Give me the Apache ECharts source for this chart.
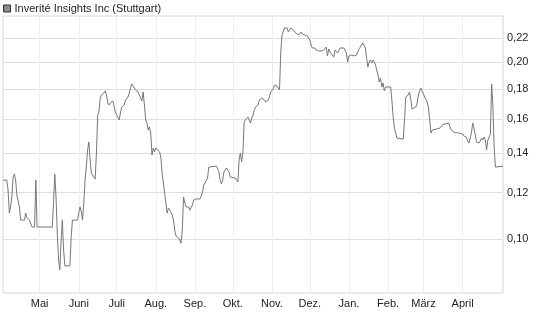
<!DOCTYPE html>
<html>
<head>
<meta charset="utf-8">
<script src="https://cdn.jsdelivr.net/npm/echarts@6/dist/echarts.min.js"></script>
<style>
html,body{margin:0;padding:0;background:#fff;}
#chart{width:545px;height:327px;}
</style>
</head>
<body>
<div id="chart"></div>
<script>
var title = 'Inverité Insights Inc (Stuttgart)';
var monthNames = ['Jan.','Feb.','März','April','Mai','Juni','Juli','Aug.','Sep.','Okt.','Nov.','Dez.'];
var monthTicks = ['2024-05-01','2024-06-01','2024-07-01','2024-08-01','2024-09-01','2024-10-01','2024-11-01','2024-12-01','2025-01-01','2025-02-01','2025-03-01','2025-04-01'];
var priceTicks = [0.10,0.12,0.14,0.16,0.18,0.20,0.22];

var dates = [
'2024-04-02','2024-04-05','2024-04-06','2024-04-07','2024-04-08','2024-04-09','2024-04-10','2024-04-11','2024-04-12','2024-04-13',
'2024-04-15','2024-04-16','2024-04-19','2024-04-20','2024-04-21','2024-04-23','2024-04-24','2024-04-25','2024-04-27','2024-04-28',
'2024-04-29','2024-05-11','2024-05-12','2024-05-13','2024-05-14','2024-05-15','2024-05-16','2024-05-17','2024-05-18','2024-05-19',
'2024-05-20','2024-05-21','2024-05-25','2024-05-26','2024-05-27','2024-05-31','2024-06-01','2024-06-02','2024-06-03','2024-06-04',
'2024-06-05','2024-06-06','2024-06-07','2024-06-08','2024-06-09','2024-06-10','2024-06-11','2024-06-12','2024-06-14','2024-06-15',
'2024-06-16','2024-06-17','2024-06-18','2024-06-19','2024-06-20','2024-06-21','2024-06-22','2024-06-23','2024-06-24','2024-06-25',
'2024-06-26','2024-06-28','2024-06-29','2024-06-30','2024-07-01','2024-07-02','2024-07-03','2024-07-04','2024-07-05','2024-07-07',
'2024-07-08','2024-07-10','2024-07-11','2024-07-12','2024-07-13','2024-07-14','2024-07-16','2024-07-18','2024-07-19','2024-07-20',
'2024-07-21','2024-07-22','2024-07-23','2024-07-24','2024-07-25','2024-07-26','2024-07-27','2024-07-28','2024-07-29','2024-07-30',
'2024-07-31','2024-08-01','2024-08-02','2024-08-04','2024-08-05','2024-08-06','2024-08-07','2024-08-08','2024-08-09','2024-08-10',
'2024-08-11','2024-08-12','2024-08-13','2024-08-14','2024-08-15','2024-08-16','2024-08-17','2024-08-19','2024-08-20','2024-08-21',
'2024-08-22','2024-08-23','2024-08-24','2024-08-25','2024-08-26','2024-08-27','2024-08-28','2024-08-29','2024-08-30','2024-08-31',
'2024-09-02','2024-09-03','2024-09-05','2024-09-06','2024-09-07','2024-09-08','2024-09-09','2024-09-10','2024-09-11','2024-09-12',
'2024-09-13','2024-09-18','2024-09-19','2024-09-20','2024-09-21','2024-09-22','2024-09-23','2024-09-24','2024-09-25','2024-09-26',
'2024-09-27','2024-09-28','2024-09-29','2024-09-30','2024-10-03','2024-10-04','2024-10-05','2024-10-06','2024-10-07','2024-10-08',
'2024-10-09','2024-10-10','2024-10-11','2024-10-12','2024-10-13','2024-10-14','2024-10-15','2024-10-16','2024-10-17','2024-10-18',
'2024-10-19','2024-10-21','2024-10-22','2024-10-24','2024-10-25','2024-10-26','2024-10-27','2024-10-28','2024-10-29','2024-10-30',
'2024-10-31','2024-11-02','2024-11-03','2024-11-05','2024-11-06','2024-11-07','2024-11-08','2024-11-09','2024-11-11','2024-11-12',
'2024-11-13','2024-11-14','2024-11-15','2024-11-16','2024-11-17','2024-11-18','2024-11-19','2024-11-20','2024-11-22','2024-11-23',
'2024-11-24','2024-11-25','2024-11-26','2024-11-27','2024-11-28','2024-11-29','2024-11-30','2024-12-01','2024-12-02','2024-12-03',
'2024-12-04','2024-12-05','2024-12-06','2024-12-08','2024-12-10','2024-12-12','2024-12-14','2024-12-15','2024-12-16','2024-12-17',
'2024-12-18','2024-12-20','2024-12-21','2024-12-22','2024-12-23','2024-12-24','2024-12-25','2024-12-28','2024-12-30','2024-12-31',
'2025-01-01','2025-01-02','2025-01-03','2025-01-05','2025-01-06','2025-01-07','2025-01-08','2025-01-09','2025-01-10','2025-01-11',
'2025-01-12','2025-01-13','2025-01-14','2025-01-15','2025-01-16','2025-01-17','2025-01-18','2025-01-19','2025-01-20','2025-01-21',
'2025-01-22','2025-01-23','2025-01-24','2025-01-25','2025-01-26','2025-01-27','2025-01-28','2025-01-29','2025-01-30','2025-02-03',
'2025-02-04','2025-02-05','2025-02-06','2025-02-07','2025-02-08','2025-02-09','2025-02-13','2025-02-14','2025-02-15','2025-02-16',
'2025-02-17','2025-02-18','2025-02-19','2025-02-20','2025-02-21','2025-02-23','2025-02-24','2025-02-25','2025-02-26','2025-02-27',
'2025-02-28','2025-03-01','2025-03-02','2025-03-04','2025-03-05','2025-03-06','2025-03-07','2025-03-08','2025-03-09','2025-03-11',
'2025-03-14','2025-03-15','2025-03-16','2025-03-18','2025-03-19','2025-03-21','2025-03-22','2025-03-23','2025-03-25','2025-03-27',
'2025-03-29','2025-03-30','2025-04-01','2025-04-02','2025-04-04','2025-04-05','2025-04-06','2025-04-07','2025-04-08','2025-04-09',
'2025-04-10','2025-04-11','2025-04-12','2025-04-13','2025-04-14','2025-04-15','2025-04-16','2025-04-17','2025-04-18','2025-04-19',
'2025-04-20','2025-04-21','2025-04-22','2025-04-23','2025-04-24','2025-04-25','2025-04-26','2025-04-27','2025-05-03'
];
var prices = [
0.1260,0.1260,0.1212,0.1107,0.1134,0.1179,0.1275,0.1290,0.1260,0.1188,
0.1134,0.1077,0.1077,0.1107,0.1086,0.1077,0.1069,0.1048,0.1048,0.1260,
0.1048,0.1048,0.1150,0.1290,0.1179,0.1024,0.0921,0.0886,0.0990,0.1077,
0.0958,0.0900,0.0900,0.1008,0.1077,0.1077,0.1107,0.1134,0.1112,0.1077,
0.1152,0.1260,0.1331,0.1418,0.1463,0.1363,0.1295,0.1285,0.1265,0.1401,
0.1626,0.1646,0.1738,0.1759,0.1752,0.1773,0.1787,0.1759,0.1705,0.1691,
0.1705,0.1718,0.1711,0.1646,0.1626,0.1614,0.1595,0.1639,0.1678,0.1691,
0.1725,0.1745,0.1773,0.1808,0.1837,0.1829,0.1794,0.1780,0.1759,0.1738,
0.1718,0.1780,0.1691,0.1595,0.1576,0.1533,0.1552,0.1515,0.1390,0.1429,
0.1407,0.1429,0.1434,0.1407,0.1379,0.1295,0.1246,0.1198,0.1152,0.1107,
0.1129,0.1134,0.1112,0.1099,0.1077,0.1036,0.1012,0.1004,0.0996,0.0984,
0.1036,0.1179,0.1152,0.1134,0.1129,0.1134,0.1120,0.1120,0.1143,0.1165,
0.1170,0.1174,0.1170,0.1184,0.1202,0.1236,0.1246,0.1241,0.1270,0.1326,
0.1331,0.1331,0.1326,0.1301,0.1260,0.1241,0.1260,0.1301,0.1311,0.1321,
0.1331,0.1301,0.1275,0.1270,0.1270,0.1265,0.1251,0.1363,0.1401,0.1353,
0.1407,0.1582,0.1595,0.1607,0.1614,0.1595,0.1576,0.1607,0.1626,0.1659,
0.1678,0.1691,0.1725,0.1738,0.1725,0.1725,0.1711,0.1705,0.1725,0.1745,
0.1780,0.1801,0.1829,0.1822,0.1808,0.1794,0.2082,0.2226,0.2288,0.2297,
0.2288,0.2252,0.2270,0.2288,0.2297,0.2270,0.2261,0.2243,0.2226,0.2243,
0.2252,0.2234,0.2217,0.2226,0.2243,0.2217,0.2200,0.2182,0.2140,0.2115,
0.2107,0.2115,0.2098,0.2090,0.2090,0.2098,0.2123,0.2050,0.2107,0.2082,
0.2074,0.2042,0.2098,0.2082,0.2074,0.2082,0.2115,0.2115,0.2074,0.2002,
0.2050,0.2058,0.2058,0.2050,0.2042,0.2058,0.2082,0.2107,0.2115,0.2140,
0.2157,0.2148,0.2115,0.2034,0.1963,0.2002,0.2018,0.1994,0.2018,0.2002,
0.1978,0.1963,0.1903,0.1851,0.1880,0.1815,0.1844,0.1787,0.1815,0.1815,
0.1725,0.1614,0.1545,0.1515,0.1486,0.1480,0.1480,0.1595,0.1745,0.1738,
0.1759,0.1780,0.1725,0.1665,0.1672,0.1678,0.1705,0.1759,0.1787,0.1808,
0.1801,0.1766,0.1745,0.1711,0.1672,0.1665,0.1515,0.1533,0.1539,0.1539,
0.1545,0.1552,0.1564,0.1570,0.1570,0.1576,0.1552,0.1533,0.1521,0.1518,
0.1515,0.1513,0.1510,0.1498,0.1492,0.1469,0.1457,0.1457,0.1515,0.1576,
0.1545,0.1504,0.1463,0.1463,0.1457,0.1469,0.1486,0.1474,0.1492,0.1474,
0.1418,0.1474,0.1492,0.1510,0.1837,0.1685,0.1434,0.1326,0.1331
];

function toTime(s) { return new Date(s + 'T00:00:00').getTime(); }
var seriesData = dates.map(function (d, i) { return [toTime(d), prices[i]]; });
var tickTimes = monthTicks.map(toTime);

var chart = echarts.init(document.getElementById('chart'), null, { renderer: 'canvas' });
chart.setOption({
  animation: false,
  backgroundColor: '#fff',
  legend: {
    show: true,
    left: 3, top: 3, padding: 0,
    itemWidth: 7, itemHeight: 7, itemGap: 10,
    icon: 'rect',
    itemStyle: { color: '#8a8a8a', borderColor: '#333', borderWidth: 1 },
    textStyle: { fontFamily: 'Liberation Sans, Arial, sans-serif', fontSize: 11, color: '#222', padding: [0, 0, 0, -1] },
    data: [title]
  },
  grid: {
    left: 3, right: 42, top: 16, bottom: 34,
    show: true, borderColor: '#d6d6d6', borderWidth: 1, containLabel: false
  },
  xAxis: {
    type: 'value',
    scale: true,
    min: toTime('2024-04-02'),
    max: toTime('2025-05-03'),
    axisLine: { show: false },
    axisTick: { show: false, customValues: tickTimes },
    splitLine: { show: true, lineStyle: { color: '#eeeeee', width: 1 } },
    axisLabel: {
      customValues: tickTimes,
      margin: 5,
      fontFamily: 'Liberation Sans, Arial, sans-serif',
      fontSize: 11, color: '#222',
      formatter: function (v) { return monthNames[new Date(v).getMonth()]; }
    }
  },
  yAxis: {
    type: 'log',
    logBase: 10,
    position: 'right',
    min: 0.08092, max: 0.23977,
    axisLine: { show: false },
    axisTick: { show: false, customValues: priceTicks },
    splitLine: { show: true, lineStyle: { color: '#dddddd', width: 1 } },
    axisLabel: {
      customValues: priceTicks,
      margin: 4,
      fontFamily: 'Liberation Sans, Arial, sans-serif',
      fontSize: 11, color: '#222',
      formatter: function (v) { return Number(v).toFixed(2).replace('.', ','); }
    }
  },
  series: [{
    name: title,
    type: 'line',
    data: seriesData,
    showSymbol: false,
    symbol: 'none',
    lineStyle: { color: '#777', width: 1 },
    itemStyle: { color: '#8a8a8a' },
    silent: true
  }]
});
</script>
</body>
</html>
